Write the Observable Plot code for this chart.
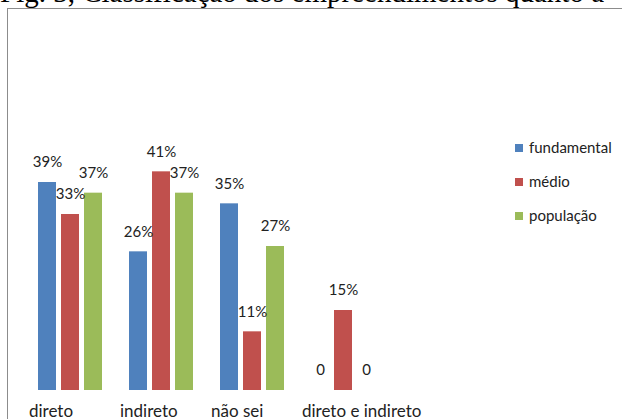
<!DOCTYPE html>
<html>
<head>
<meta charset="utf-8">
<script src="https://cdn.jsdelivr.net/npm/d3@7"></script>
<script src="https://cdn.jsdelivr.net/npm/@observablehq/plot@0.6"></script>
<style>
  html, body { margin: 0; padding: 0; background: #fff; overflow: hidden; }
  body { width: 622px; height: 419px; position: relative; }
  #title { position: absolute; left: 0px; top: -22px; font: 29px/1 "Liberation Serif", "DejaVu Serif", serif; color: #000; white-space: nowrap; }
  #frame { position: absolute; left: 7px; top: 8px; width: 640px; height: 430px; border-top: 1.5px solid #8c8c8c; border-left: 1.5px solid #8c8c8c; background: #fff; }
  #chart { position: absolute; left: 1px; top: 0px; }
  #legend { position: absolute; left: 515px; top: 138px; font: 15px Lato, sans-serif; color: #222; }
  .item { height: 34px; display: flex; align-items: flex-start; }
  .sw { width: 8px; height: 8px; margin-top: 6px; margin-right: 6px; }
</style>
</head>
<body>
<div id="title">Fig. 3, Classificação dos empreendimentos quanto a</div>
<div id="frame"><div id="chart"></div></div>
<div id="legend"></div>
<script>
const categories = ["direto", "indireto", "não sei", "direto e indireto"];
const series = ["fundamental", "médio", "população"];
const fundamental = [0.39, 0.26, 0.35, 0];
const medio = [0.33, 0.41, 0.11, 0.15];
const populacao = [0.37, 0.37, 0.27, 0];
const colors = ["#4F81BD", "#C0504D", "#9BBB59"];

const values = [fundamental, medio, populacao];
const rows = [];
categories.forEach((c, i) => {
  series.forEach((s, j) => rows.push({category: c, series: s, value: values[j][i]}));
});
const fmt = d => d.value === 0 ? "0" : Math.round(d.value * 100) + "%";

const chart = Plot.plot({
  width: 614,
  height: 410,
  marginTop: 141,
  marginBottom: 29,
  marginLeft: 15,
  marginRight: 235,
  style: {fontFamily: "Lato, sans-serif", color: "#222", background: "transparent"},
  fx: {domain: categories, padding: 0, label: null},
  x: {domain: series, paddingInner: 0.23, paddingOuter: 0.57, axis: null},
  y: {domain: [0, 0.45], axis: null},
  color: {domain: series, range: colors},
  marks: [
    Plot.barY(rows, {fx: "category", x: "series", y: "value", fill: "series"}),
    Plot.text(rows, {fx: "category", x: "series", y: "value", text: fmt, dy: -20, fontSize: 15, fill: "#222"}),
    Plot.axisFx({anchor: "bottom", tickSize: 0, tickPadding: 14, fontSize: 17, textAnchor: "start", dx: -41, fill: "#222", label: null})
  ]
});
document.getElementById("chart").appendChild(chart);

const legend = document.getElementById("legend");
series.forEach((s, j) => {
  const item = document.createElement("div");
  item.className = "item";
  const sw = document.createElement("div");
  sw.className = "sw";
  sw.style.background = colors[j];
  const t = document.createElement("span");
  t.textContent = s;
  item.appendChild(sw);
  item.appendChild(t);
  legend.appendChild(item);
});
</script>
</body>
</html>
